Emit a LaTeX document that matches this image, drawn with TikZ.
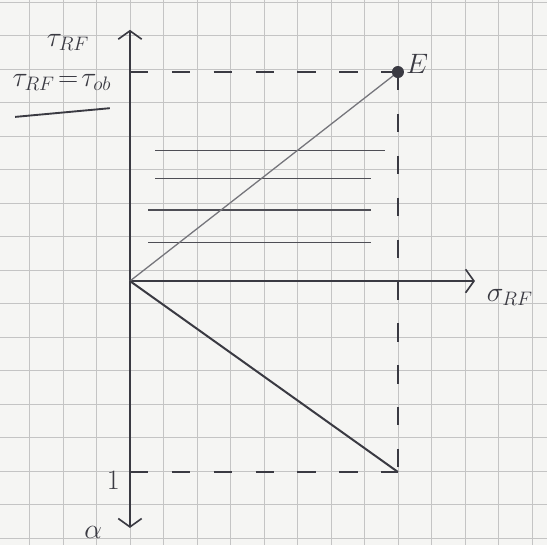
\documentclass[tikz,border=0pt]{standalone}
\usetikzlibrary{arrows.meta, positioning, calc}
\definecolor{pencil}{RGB}{58,58,66}
\definecolor{paper}{RGB}{245,245,243}
\definecolor{gridline}{RGB}{196,196,196}

\begin{document}
\begin{tikzpicture}[
    axis/.style={line width=1.4pt, pencil, -{Straight Barb[length=2.5mm, width=7mm]}},
    guide/.style={pencil, line width=1.2pt, dash pattern=on 5.5mm off 7mm},
    level/.style={pencil!90, line width=1.1pt},
    lbl/.style={pencil, font=\huge, scale=1.15},
  ]
  \useasboundingbox (-3.88,-7.88) rectangle (12.45,8.39);
  \clip (-3.88,-7.88) rectangle (12.45,8.39);

  % squared paper
  \fill[paper] (-3.88,-7.88) rectangle (12.45,8.39);
  \draw[gridline, line width=0.6pt, yshift=0.33cm] (-4,-9) grid (13,9);

  % points
  \coordinate (O) at (0,0);
  \coordinate (E) at (8,6.24);
  \coordinate (B) at (8,-5.7);
  \coordinate (Ey) at (0,6.24);
  \coordinate (By) at (0,-5.7);
  \coordinate (top) at (0,7.5);
  \coordinate (bot) at (0,-7.37);
  \coordinate (right) at (10.3,0);

  % axes
  \draw[axis] (O) -- (top);
  \draw[axis] (O) -- (bot);
  \draw[axis] (O) -- (right);

  % dashed guides
  \draw[guide] (Ey) -- (E);
  \draw[guide] (E) -- (B);
  \draw[guide] (By) -- (B);

  % horizontal levels
  \draw[level] (0.75,3.9) -- (7.6,3.9);
  \draw[level] (0.75,3.07) -- (7.2,3.07);
  \draw[level] (0.54,2.12) -- (7.2,2.12);
  \draw[level] (0.54,1.16) -- (7.2,1.16);

  % rays from the origin
  \draw[pencil!70, line width=1.1pt] (O) -- (E);
  \draw[pencil, line width=1.7pt] (O) -- (B);
  \fill[pencil] (E) circle (1.8mm);

  % labels
  \node[lbl] (tauax) at (-1.85,7.13) {$\tau_{RF}$};
  \node[lbl] (taueq) at (-2.03,5.94) {$\tau_{RF}\!=\!\tau_{ob}$};
  \draw[pencil, line width=1.6pt] (-3.43,4.9) -- (-0.6,5.16);
  \node[lbl, right=1mm of E, yshift=2mm] (Elbl) {$E$};
  \node[lbl] (sigax) at (11.34,-0.5) {$\sigma_{RF}$};
  \node[lbl] (one) at (-0.5,-5.94) {$1$};
  \node[lbl] (alpha) at (-1.1,-7.5) {$\alpha$};
\end{tikzpicture}
\end{document}
